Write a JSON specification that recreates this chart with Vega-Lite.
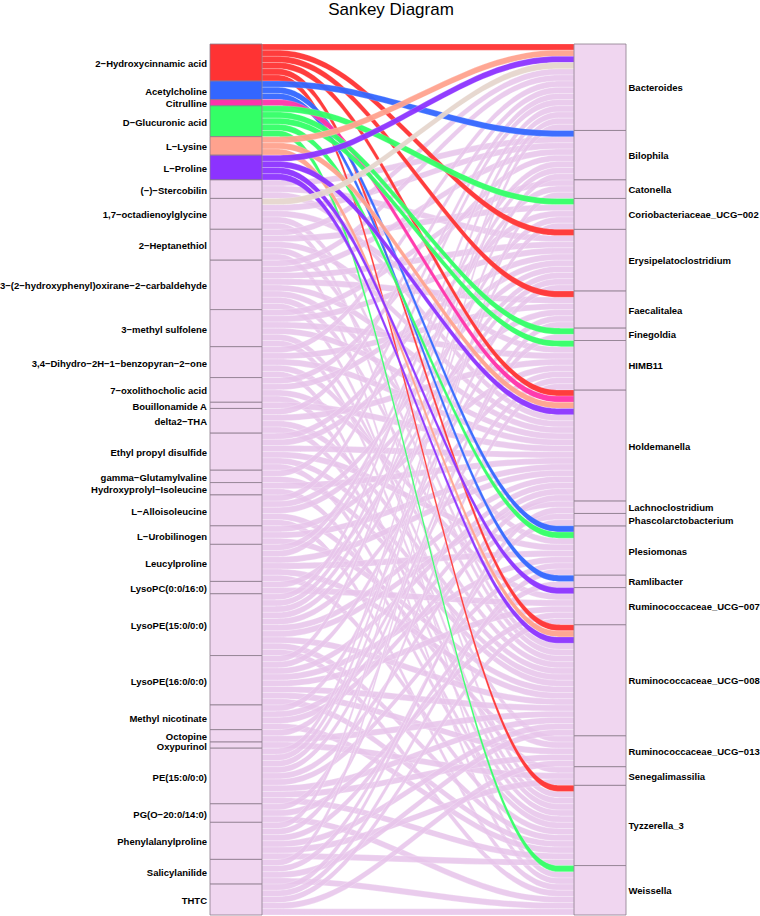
{
"$schema": "https://vega.github.io/schema/vega-lite/v6.json",
"width": 416, "height": 871,
"autosize": {"type": "none"},
"padding": {"left": 210, "top": 44, "right": 134, "bottom": 1},
"background": "white",
"config": {"view": {"stroke": null}},
"title": {"text": "Sankey Diagram", "fontSize": 17, "font": "Liberation Sans", "fontWeight": "normal", "color": "black", "anchor": "middle", "frame": "group", "dx": -27, "offset": 24},
"datasets": {
"left": [
{"name": "2−Hydroxycinnamic acid", "rank": 0, "grp": "2−Hydroxycinnamic acid"},
{"name": "Acetylcholine", "rank": 1, "grp": "Acetylcholine"},
{"name": "Citrulline", "rank": 2, "grp": "Citrulline"},
{"name": "D−Glucuronic acid", "rank": 3, "grp": "D−Glucuronic acid"},
{"name": "L−Lysine", "rank": 4, "grp": "L−Lysine"},
{"name": "L−Proline", "rank": 5, "grp": "L−Proline"},
{"name": "(−)−Stercobilin", "rank": 6, "grp": "none"},
{"name": "1,7−octadienoylglycine", "rank": 7, "grp": "none"},
{"name": "2−Heptanethiol", "rank": 8, "grp": "none"},
{"name": "3−(2−hydroxyphenyl)oxirane−2−carbaldehyde", "rank": 9, "grp": "none"},
{"name": "3−methyl sulfolene", "rank": 10, "grp": "none"},
{"name": "3,4−Dihydro−2H−1−benzopyran−2−one", "rank": 11, "grp": "none"},
{"name": "7−oxolithocholic acid", "rank": 12, "grp": "none"},
{"name": "Bouillonamide A", "rank": 13, "grp": "none"},
{"name": "delta2−THA", "rank": 14, "grp": "none"},
{"name": "Ethyl propyl disulfide", "rank": 15, "grp": "none"},
{"name": "gamma−Glutamylvaline", "rank": 16, "grp": "none"},
{"name": "Hydroxyprolyl−Isoleucine", "rank": 17, "grp": "none"},
{"name": "L−Alloisoleucine", "rank": 18, "grp": "none"},
{"name": "L−Urobilinogen", "rank": 19, "grp": "none"},
{"name": "Leucylproline", "rank": 20, "grp": "none"},
{"name": "LysoPC(0:0/16:0)", "rank": 21, "grp": "none"},
{"name": "LysoPE(15:0/0:0)", "rank": 22, "grp": "none"},
{"name": "LysoPE(16:0/0:0)", "rank": 23, "grp": "none"},
{"name": "Methyl nicotinate", "rank": 24, "grp": "none"},
{"name": "Octopine", "rank": 25, "grp": "none"},
{"name": "Oxypurinol", "rank": 26, "grp": "none"},
{"name": "PE(15:0/0:0)", "rank": 27, "grp": "none"},
{"name": "PG(O−20:0/14:0)", "rank": 28, "grp": "none"},
{"name": "Phenylalanylproline", "rank": 29, "grp": "none"},
{"name": "Salicylanilide", "rank": 30, "grp": "none"},
{"name": "THTC", "rank": 31, "grp": "none"}
],
"right": [
{"name": "Bacteroides", "rank": 0},
{"name": "Bilophila", "rank": 1},
{"name": "Catonella", "rank": 2},
{"name": "Coriobacteriaceae_UCG−002", "rank": 3},
{"name": "Erysipelatoclostridium", "rank": 4},
{"name": "Faecalitalea", "rank": 5},
{"name": "Finegoldia", "rank": 6},
{"name": "HIMB11", "rank": 7},
{"name": "Holdemanella", "rank": 8},
{"name": "Lachnoclostridium", "rank": 9},
{"name": "Phascolarctobacterium", "rank": 10},
{"name": "Plesiomonas", "rank": 11},
{"name": "Ramlibacter", "rank": 12},
{"name": "Ruminococcaceae_UCG−007", "rank": 13},
{"name": "Ruminococcaceae_UCG−008", "rank": 14},
{"name": "Ruminococcaceae_UCG−013", "rank": 15},
{"name": "Senegalimassilia", "rank": 16},
{"name": "Tyzzerella_3", "rank": 17},
{"name": "Weissella", "rank": 18}
],
"links": [
{"s": "2−Hydroxycinnamic acid", "t": "Bacteroides", "v": 1, "g": "2−Hydroxycinnamic acid"},
{"s": "2−Hydroxycinnamic acid", "t": "Erysipelatoclostridium", "v": 1, "g": "2−Hydroxycinnamic acid"},
{"s": "2−Hydroxycinnamic acid", "t": "Faecalitalea", "v": 1, "g": "2−Hydroxycinnamic acid"},
{"s": "2−Hydroxycinnamic acid", "t": "Holdemanella", "v": 1, "g": "2−Hydroxycinnamic acid"},
{"s": "2−Hydroxycinnamic acid", "t": "Ruminococcaceae_UCG−008", "v": 1, "g": "2−Hydroxycinnamic acid"},
{"s": "2−Hydroxycinnamic acid", "t": "Tyzzerella_3", "v": 1, "g": "2−Hydroxycinnamic acid"},
{"s": "Acetylcholine", "t": "Bilophila", "v": 1, "g": "Acetylcholine"},
{"s": "Acetylcholine", "t": "Plesiomonas", "v": 1, "g": "Acetylcholine"},
{"s": "Acetylcholine", "t": "Ramlibacter", "v": 1, "g": "Acetylcholine"},
{"s": "Citrulline", "t": "Holdemanella", "v": 1, "g": "Citrulline"},
{"s": "D−Glucuronic acid", "t": "Coriobacteriaceae_UCG−002", "v": 1, "g": "D−Glucuronic acid"},
{"s": "D−Glucuronic acid", "t": "Finegoldia", "v": 1, "g": "D−Glucuronic acid"},
{"s": "D−Glucuronic acid", "t": "HIMB11", "v": 1, "g": "D−Glucuronic acid"},
{"s": "D−Glucuronic acid", "t": "Plesiomonas", "v": 1, "g": "D−Glucuronic acid"},
{"s": "D−Glucuronic acid", "t": "Weissella", "v": 1, "g": "D−Glucuronic acid"},
{"s": "L−Lysine", "t": "Bacteroides", "v": 1, "g": "L−Lysine"},
{"s": "L−Lysine", "t": "Holdemanella", "v": 1, "g": "L−Lysine"},
{"s": "L−Lysine", "t": "Ruminococcaceae_UCG−008", "v": 1, "g": "L−Lysine"},
{"s": "L−Proline", "t": "Bacteroides", "v": 1, "g": "L−Proline"},
{"s": "L−Proline", "t": "Holdemanella", "v": 1, "g": "L−Proline"},
{"s": "L−Proline", "t": "Ruminococcaceae_UCG−007", "v": 1, "g": "L−Proline"},
{"s": "L−Proline", "t": "Ruminococcaceae_UCG−008", "v": 1, "g": "L−Proline"},
{"s": "(−)−Stercobilin", "t": "Bilophila", "v": 1, "g": "other"},
{"s": "(−)−Stercobilin", "t": "Erysipelatoclostridium", "v": 1, "g": "other"},
{"s": "(−)−Stercobilin", "t": "Holdemanella", "v": 1, "g": "other"},
{"s": "1,7−octadienoylglycine", "t": "Bacteroides", "v": 1, "g": "1,7−octadienoylglycine"},
{"s": "1,7−octadienoylglycine", "t": "Bilophila", "v": 1, "g": "other"},
{"s": "1,7−octadienoylglycine", "t": "HIMB11", "v": 1, "g": "other"},
{"s": "1,7−octadienoylglycine", "t": "Ruminococcaceae_UCG−008", "v": 1, "g": "other"},
{"s": "1,7−octadienoylglycine", "t": "Tyzzerella_3", "v": 1, "g": "other"},
{"s": "2−Heptanethiol", "t": "Bacteroides", "v": 1, "g": "other"},
{"s": "2−Heptanethiol", "t": "Coriobacteriaceae_UCG−002", "v": 1, "g": "other"},
{"s": "2−Heptanethiol", "t": "Holdemanella", "v": 1, "g": "other"},
{"s": "2−Heptanethiol", "t": "Ruminococcaceae_UCG−008", "v": 1, "g": "other"},
{"s": "2−Heptanethiol", "t": "Weissella", "v": 1, "g": "other"},
{"s": "3−(2−hydroxyphenyl)oxirane−2−carbaldehyde", "t": "Bacteroides", "v": 1, "g": "other"},
{"s": "3−(2−hydroxyphenyl)oxirane−2−carbaldehyde", "t": "Bilophila", "v": 1, "g": "other"},
{"s": "3−(2−hydroxyphenyl)oxirane−2−carbaldehyde", "t": "Erysipelatoclostridium", "v": 1, "g": "other"},
{"s": "3−(2−hydroxyphenyl)oxirane−2−carbaldehyde", "t": "Faecalitalea", "v": 1, "g": "other"},
{"s": "3−(2−hydroxyphenyl)oxirane−2−carbaldehyde", "t": "Holdemanella", "v": 1, "g": "other"},
{"s": "3−(2−hydroxyphenyl)oxirane−2−carbaldehyde", "t": "Plesiomonas", "v": 1, "g": "other"},
{"s": "3−(2−hydroxyphenyl)oxirane−2−carbaldehyde", "t": "Ruminococcaceae_UCG−008", "v": 1, "g": "other"},
{"s": "3−(2−hydroxyphenyl)oxirane−2−carbaldehyde", "t": "Tyzzerella_3", "v": 1, "g": "other"},
{"s": "3−methyl sulfolene", "t": "Catonella", "v": 1, "g": "other"},
{"s": "3−methyl sulfolene", "t": "Erysipelatoclostridium", "v": 1, "g": "other"},
{"s": "3−methyl sulfolene", "t": "HIMB11", "v": 1, "g": "other"},
{"s": "3−methyl sulfolene", "t": "Holdemanella", "v": 1, "g": "other"},
{"s": "3−methyl sulfolene", "t": "Ruminococcaceae_UCG−013", "v": 1, "g": "other"},
{"s": "3−methyl sulfolene", "t": "Tyzzerella_3", "v": 1, "g": "other"},
{"s": "3,4−Dihydro−2H−1−benzopyran−2−one", "t": "Bacteroides", "v": 1, "g": "other"},
{"s": "3,4−Dihydro−2H−1−benzopyran−2−one", "t": "Faecalitalea", "v": 1, "g": "other"},
{"s": "3,4−Dihydro−2H−1−benzopyran−2−one", "t": "Holdemanella", "v": 1, "g": "other"},
{"s": "3,4−Dihydro−2H−1−benzopyran−2−one", "t": "Ruminococcaceae_UCG−008", "v": 1, "g": "other"},
{"s": "3,4−Dihydro−2H−1−benzopyran−2−one", "t": "Weissella", "v": 1, "g": "other"},
{"s": "7−oxolithocholic acid", "t": "Bilophila", "v": 1, "g": "other"},
{"s": "7−oxolithocholic acid", "t": "Erysipelatoclostridium", "v": 1, "g": "other"},
{"s": "7−oxolithocholic acid", "t": "Ruminococcaceae_UCG−007", "v": 1, "g": "other"},
{"s": "7−oxolithocholic acid", "t": "Tyzzerella_3", "v": 1, "g": "other"},
{"s": "Bouillonamide A", "t": "Holdemanella", "v": 1, "g": "other"},
{"s": "delta2−THA", "t": "Bacteroides", "v": 1, "g": "other"},
{"s": "delta2−THA", "t": "HIMB11", "v": 1, "g": "other"},
{"s": "delta2−THA", "t": "Ruminococcaceae_UCG−008", "v": 1, "g": "other"},
{"s": "delta2−THA", "t": "Senegalimassilia", "v": 1, "g": "other"},
{"s": "Ethyl propyl disulfide", "t": "Coriobacteriaceae_UCG−002", "v": 1, "g": "other"},
{"s": "Ethyl propyl disulfide", "t": "Erysipelatoclostridium", "v": 1, "g": "other"},
{"s": "Ethyl propyl disulfide", "t": "Holdemanella", "v": 1, "g": "other"},
{"s": "Ethyl propyl disulfide", "t": "Plesiomonas", "v": 1, "g": "other"},
{"s": "Ethyl propyl disulfide", "t": "Ruminococcaceae_UCG−008", "v": 1, "g": "other"},
{"s": "Ethyl propyl disulfide", "t": "Tyzzerella_3", "v": 1, "g": "other"},
{"s": "gamma−Glutamylvaline", "t": "Bacteroides", "v": 1, "g": "other"},
{"s": "gamma−Glutamylvaline", "t": "Ruminococcaceae_UCG−008", "v": 1, "g": "other"},
{"s": "Hydroxyprolyl−Isoleucine", "t": "Holdemanella", "v": 1, "g": "other"},
{"s": "Hydroxyprolyl−Isoleucine", "t": "Tyzzerella_3", "v": 1, "g": "other"},
{"s": "L−Alloisoleucine", "t": "Bacteroides", "v": 1, "g": "other"},
{"s": "L−Alloisoleucine", "t": "Erysipelatoclostridium", "v": 1, "g": "other"},
{"s": "L−Alloisoleucine", "t": "Faecalitalea", "v": 1, "g": "other"},
{"s": "L−Alloisoleucine", "t": "Ruminococcaceae_UCG−013", "v": 1, "g": "other"},
{"s": "L−Alloisoleucine", "t": "Weissella", "v": 1, "g": "other"},
{"s": "L−Urobilinogen", "t": "HIMB11", "v": 1, "g": "other"},
{"s": "L−Urobilinogen", "t": "Holdemanella", "v": 1, "g": "other"},
{"s": "L−Urobilinogen", "t": "Ruminococcaceae_UCG−008", "v": 1, "g": "other"},
{"s": "Leucylproline", "t": "Bilophila", "v": 1, "g": "other"},
{"s": "Leucylproline", "t": "Catonella", "v": 1, "g": "other"},
{"s": "Leucylproline", "t": "Holdemanella", "v": 1, "g": "other"},
{"s": "Leucylproline", "t": "Plesiomonas", "v": 1, "g": "other"},
{"s": "Leucylproline", "t": "Ruminococcaceae_UCG−008", "v": 1, "g": "other"},
{"s": "Leucylproline", "t": "Tyzzerella_3", "v": 1, "g": "other"},
{"s": "LysoPC(0:0/16:0)", "t": "Erysipelatoclostridium", "v": 1, "g": "other"},
{"s": "LysoPC(0:0/16:0)", "t": "Ruminococcaceae_UCG−007", "v": 1, "g": "other"},
{"s": "LysoPE(15:0/0:0)", "t": "Bacteroides", "v": 1, "g": "other"},
{"s": "LysoPE(15:0/0:0)", "t": "Bilophila", "v": 1, "g": "other"},
{"s": "LysoPE(15:0/0:0)", "t": "Coriobacteriaceae_UCG−002", "v": 1, "g": "other"},
{"s": "LysoPE(15:0/0:0)", "t": "Erysipelatoclostridium", "v": 1, "g": "other"},
{"s": "LysoPE(15:0/0:0)", "t": "HIMB11", "v": 1, "g": "other"},
{"s": "LysoPE(15:0/0:0)", "t": "Holdemanella", "v": 1, "g": "other"},
{"s": "LysoPE(15:0/0:0)", "t": "Lachnoclostridium", "v": 1, "g": "other"},
{"s": "LysoPE(15:0/0:0)", "t": "Ruminococcaceae_UCG−008", "v": 1, "g": "other"},
{"s": "LysoPE(15:0/0:0)", "t": "Tyzzerella_3", "v": 1, "g": "other"},
{"s": "LysoPE(15:0/0:0)", "t": "Weissella", "v": 1, "g": "other"},
{"s": "LysoPE(16:0/0:0)", "t": "Bacteroides", "v": 1, "g": "other"},
{"s": "LysoPE(16:0/0:0)", "t": "Faecalitalea", "v": 1, "g": "other"},
{"s": "LysoPE(16:0/0:0)", "t": "Holdemanella", "v": 1, "g": "other"},
{"s": "LysoPE(16:0/0:0)", "t": "Plesiomonas", "v": 1, "g": "other"},
{"s": "LysoPE(16:0/0:0)", "t": "Ruminococcaceae_UCG−007", "v": 1, "g": "other"},
{"s": "LysoPE(16:0/0:0)", "t": "Ruminococcaceae_UCG−008", "v": 1, "g": "other"},
{"s": "LysoPE(16:0/0:0)", "t": "Ruminococcaceae_UCG−013", "v": 1, "g": "other"},
{"s": "LysoPE(16:0/0:0)", "t": "Tyzzerella_3", "v": 1, "g": "other"},
{"s": "Methyl nicotinate", "t": "Erysipelatoclostridium", "v": 1, "g": "other"},
{"s": "Methyl nicotinate", "t": "Holdemanella", "v": 1, "g": "other"},
{"s": "Methyl nicotinate", "t": "Phascolarctobacterium", "v": 1, "g": "other"},
{"s": "Methyl nicotinate", "t": "Tyzzerella_3", "v": 1, "g": "other"},
{"s": "Octopine", "t": "HIMB11", "v": 1, "g": "other"},
{"s": "Octopine", "t": "Ruminococcaceae_UCG−008", "v": 1, "g": "other"},
{"s": "Oxypurinol", "t": "Senegalimassilia", "v": 1, "g": "other"},
{"s": "PE(15:0/0:0)", "t": "Bacteroides", "v": 1, "g": "other"},
{"s": "PE(15:0/0:0)", "t": "Bilophila", "v": 1, "g": "other"},
{"s": "PE(15:0/0:0)", "t": "Coriobacteriaceae_UCG−002", "v": 1, "g": "other"},
{"s": "PE(15:0/0:0)", "t": "Finegoldia", "v": 1, "g": "other"},
{"s": "PE(15:0/0:0)", "t": "Holdemanella", "v": 1, "g": "other"},
{"s": "PE(15:0/0:0)", "t": "Plesiomonas", "v": 1, "g": "other"},
{"s": "PE(15:0/0:0)", "t": "Ruminococcaceae_UCG−008", "v": 1, "g": "other"},
{"s": "PE(15:0/0:0)", "t": "Ruminococcaceae_UCG−013", "v": 1, "g": "other"},
{"s": "PE(15:0/0:0)", "t": "Tyzzerella_3", "v": 1, "g": "other"},
{"s": "PG(O−20:0/14:0)", "t": "Faecalitalea", "v": 1, "g": "other"},
{"s": "PG(O−20:0/14:0)", "t": "Ruminococcaceae_UCG−007", "v": 1, "g": "other"},
{"s": "PG(O−20:0/14:0)", "t": "Weissella", "v": 1, "g": "other"},
{"s": "Phenylalanylproline", "t": "Bacteroides", "v": 1, "g": "other"},
{"s": "Phenylalanylproline", "t": "HIMB11", "v": 1, "g": "other"},
{"s": "Phenylalanylproline", "t": "Ramlibacter", "v": 1, "g": "other"},
{"s": "Phenylalanylproline", "t": "Ruminococcaceae_UCG−008", "v": 1, "g": "other"},
{"s": "Phenylalanylproline", "t": "Senegalimassilia", "v": 1, "g": "other"},
{"s": "Phenylalanylproline", "t": "Tyzzerella_3", "v": 1, "g": "other"},
{"s": "Salicylanilide", "t": "Catonella", "v": 1, "g": "other"},
{"s": "Salicylanilide", "t": "Phascolarctobacterium", "v": 1, "g": "other"},
{"s": "Salicylanilide", "t": "Ruminococcaceae_UCG−008", "v": 1, "g": "other"},
{"s": "Salicylanilide", "t": "Weissella", "v": 1, "g": "other"},
{"s": "THTC", "t": "Lachnoclostridium", "v": 1, "g": "other"},
{"s": "THTC", "t": "Plesiomonas", "v": 1, "g": "other"},
{"s": "THTC", "t": "Ruminococcaceae_UCG−007", "v": 1, "g": "other"},
{"s": "THTC", "t": "Ruminococcaceae_UCG−013", "v": 1, "g": "other"},
{"s": "THTC", "t": "Weissella", "v": 1, "g": "other"}
]
},
"data": {"name": "links"},
"transform": [
{"lookup": "s", "from": {"data": {"name": "left"}, "key": "name", "fields": ["rank", "grp"]}, "as": ["si", "ng"]},
{"lookup": "t", "from": {"data": {"name": "right"}, "key": "name", "fields": ["rank"]}, "as": ["ti"]},
{"window": [{"op": "sum", "field": "v", "as": "cs"}], "sort": [{"field": "si"}, {"field": "ti"}], "frame": [null, 0]},
{"window": [{"op": "sum", "field": "v", "as": "ct"}], "sort": [{"field": "ti"}, {"field": "si"}], "frame": [null, 0]},
{"calculate": "datum.cs - datum.v", "as": "ys"},
{"calculate": "datum.ct - datum.v", "as": "yt"}
],
"layer": [
{
"transform": [
{"filter": "datum.g == 'other'"},
{"calculate": "datum.ys", "as": "p0"},
{"calculate": "datum.ys", "as": "p1"},
{"calculate": "datum.yt", "as": "p2"},
{"calculate": "datum.yt", "as": "p3"},
{"fold": ["p0", "p1", "p2", "p3"], "as": ["k", "top"]},
{"calculate": "datum.k == 'p0' ? 52 : datum.k == 'p1' ? 130 : datum.k == 'p2' ? 286 : 364", "as": "x"},
{"calculate": "datum.top + datum.v", "as": "bot"}
],
"mark": {"type": "area", "orient": "vertical", "interpolate": "basis", "fill": "#E7C5EA", "fillOpacity": 0.88, "stroke": "white", "strokeWidth": 0.4, "strokeOpacity": 0.6},
"encoding": {
"x": {"field": "x", "type": "quantitative", "scale": {"domain": [0, 416], "nice": false, "zero": false}, "axis": null},
"y": {"field": "top", "type": "quantitative", "stack": null, "scale": {"domain": [0, 141], "reverse": true, "nice": false, "zero": false}, "axis": null},
"y2": {"field": "bot"},
"detail": [{"field": "s"}, {"field": "t"}]
}
},
{
"transform": [
{"filter": "datum.g != 'other'"},
{"calculate": "datum.ys", "as": "p0"},
{"calculate": "datum.ys", "as": "p1"},
{"calculate": "datum.yt", "as": "p2"},
{"calculate": "datum.yt", "as": "p3"},
{"fold": ["p0", "p1", "p2", "p3"], "as": ["k", "top"]},
{"calculate": "datum.k == 'p0' ? 52 : datum.k == 'p1' ? 130 : datum.k == 'p2' ? 286 : 364", "as": "x"},
{"calculate": "datum.top + datum.v", "as": "bot"}
],
"mark": {"type": "area", "orient": "vertical", "interpolate": "basis", "fillOpacity": 0.95, "stroke": "white", "strokeWidth": 0.4, "strokeOpacity": 0.5},
"encoding": {
"x": {"field": "x", "type": "quantitative", "axis": null},
"y": {"field": "top", "type": "quantitative", "stack": null, "axis": null},
"y2": {"field": "bot"},
"detail": [{"field": "s"}, {"field": "t"}],
"color": {"field": "g", "type": "nominal", "legend": null, "scale": {"domain": ["2−Hydroxycinnamic acid", "Acetylcholine", "Citrulline", "D−Glucuronic acid", "L−Lysine", "L−Proline", "1,7−octadienoylglycine", "other", "none"], "range": ["#FF3333", "#3366FF", "#FF33AA", "#33FF66", "#FFA28E", "#8C33FF", "#E6D6CE", "#E7C5EA", "#F0D6F0"]}}
}
},
{
"transform": [
{"aggregate": [{"op": "min", "field": "ys", "as": "y0"}, {"op": "max", "field": "cs", "as": "y1"}], "groupby": ["s", "ng"]},
{"calculate": "(datum.y0 + datum.y1) / 2", "as": "mid"}
],
"layer": [
{
"mark": {"type": "rect", "stroke": "#8B7B8B", "strokeWidth": 0.8},
"encoding": {
"x": {"datum": 0, "type": "quantitative"},
"x2": {"datum": 52},
"y": {"field": "y0", "type": "quantitative"},
"y2": {"field": "y1"},
"color": {"field": "ng", "type": "nominal", "legend": null}
}
},
{
"mark": {"type": "text", "align": "right", "baseline": "middle", "dx": -3, "dy": 1.5, "font": "Liberation Sans", "fontWeight": "bold", "fontSize": 9.5, "color": "black"},
"encoding": {
"x": {"datum": 0, "type": "quantitative"},
"y": {"field": "mid", "type": "quantitative"},
"text": {"field": "s"}
}
}
]
},
{
"transform": [
{"aggregate": [{"op": "min", "field": "yt", "as": "y0"}, {"op": "max", "field": "ct", "as": "y1"}], "groupby": ["t"]},
{"calculate": "(datum.y0 + datum.y1) / 2", "as": "mid"}
],
"layer": [
{
"mark": {"type": "rect", "stroke": "#8B7B8B", "strokeWidth": 0.8, "fill": "#F0D6F0"},
"encoding": {
"x": {"datum": 364, "type": "quantitative"},
"x2": {"datum": 416},
"y": {"field": "y0", "type": "quantitative"},
"y2": {"field": "y1"}
}
},
{
"mark": {"type": "text", "align": "left", "baseline": "middle", "dx": 2.5, "dy": 1, "font": "Liberation Sans", "fontWeight": "bold", "fontSize": 9.5, "color": "black"},
"encoding": {
"x": {"datum": 416, "type": "quantitative"},
"y": {"field": "mid", "type": "quantitative"},
"text": {"field": "t"}
}
}
]
}
]
}
